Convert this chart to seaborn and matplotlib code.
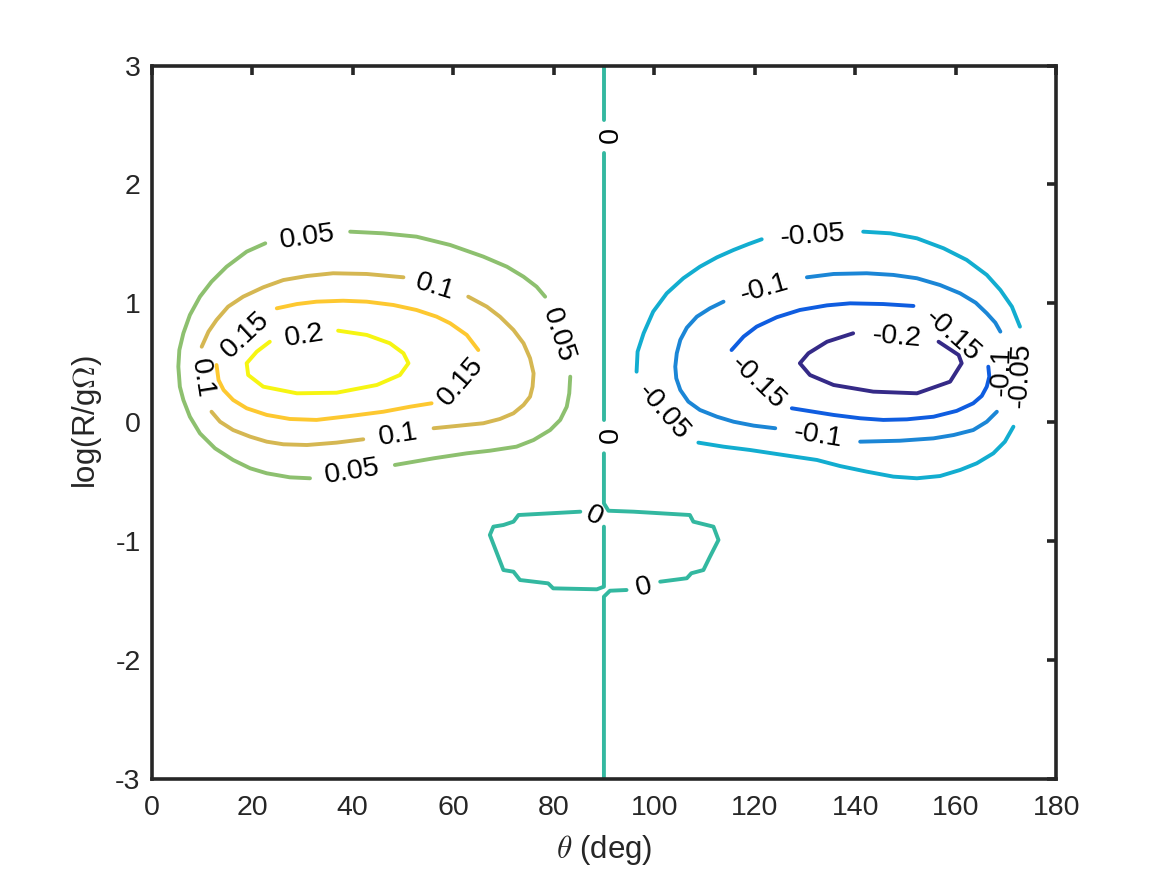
import matplotlib
matplotlib.use("Agg")
import matplotlib.pyplot as plt
import seaborn as sns

# contour pieces, theta (deg) / log(R/gOmega).
# each level is split where matlab put its inline labels
p005_theta = [[39.5, 46.1, 52.7, 59.4, 66.0, 70.7, 74.0, 76.6, 78.3],
              [83.3, 83.1, 82.6, 81.3, 79.3, 76.0, 72.6, 67.3, 62.7, 56.1, 48.4],
              [31.5, 27.5, 22.9, 19.6, 16.2, 12.6, 9.6, 7.6, 6.3, 5.6, 5.3, 5.5, 6.3, 7.6, 9.6,
               11.9, 14.9, 18.9, 22.6]]
p005_logr = [[1.603, 1.589, 1.561, 1.491, 1.393, 1.308, 1.224, 1.140, 1.056],
             [0.383, 0.243, 0.130, 0.019, -0.066, -0.150, -0.206, -0.240, -0.262, -0.304, -0.360],
             [-0.472, -0.464, -0.430, -0.388, -0.318, -0.220, -0.094, 0.046, 0.187, 0.299, 0.467,
              0.607, 0.748, 0.902, 1.056, 1.182, 1.308, 1.435, 1.505]]

p010_theta = [[9.95, 11.3, 12.9, 15.2, 18.2, 22.2, 26.2, 30.9, 36.1, 42.8, 50.1],
              [63.0, 66.7, 69.3, 72.0, 74.0, 75.3, 76.0, 75.8, 75.3, 74.0, 72.0, 69.3, 66.0, 56.1],
              [42.1, 36.8, 30.9, 26.2, 22.9, 19.6, 16.2, 13.6, 11.9]]
p010_logr = [[0.635, 0.762, 0.860, 0.972, 1.056, 1.135, 1.196, 1.230, 1.253, 1.247, 1.219],
             [1.056, 0.972, 0.888, 0.776, 0.664, 0.538, 0.411, 0.299, 0.215, 0.145, 0.075, 0.027,
              -0.009, -0.051],
             [-0.144, -0.172, -0.192, -0.186, -0.164, -0.122, -0.066, 0.004, 0.088]]

p015_theta = [[24.9, 28.9, 32.8, 38.1, 42.8, 48.1, 52.7, 56.7, 59.4, 62.7, 65.0],
              [55.7, 51.4, 46.1, 39.5, 32.8, 27.5, 22.9, 18.9, 16.2, 14.3, 13.3, 12.9]]
p015_logr = [[0.958, 0.994, 1.014, 1.022, 1.014, 0.986, 0.944, 0.888, 0.832, 0.734, 0.607],
             [0.159, 0.130, 0.088, 0.052, 0.019, 0.027, 0.061, 0.117, 0.187, 0.271, 0.355, 0.481]]

p020_theta = [[37.1, 42.8, 47.4, 50.1, 51.1, 49.4, 44.8, 36.8, 28.9, 22.2, 19.2, 18.9, 20.9, 23.5]]
p020_logr = [[0.770, 0.734, 0.664, 0.580, 0.496, 0.397, 0.313, 0.248, 0.243, 0.299, 0.397, 0.496,
              0.593, 0.677]]

# zero level: vertical line plus the small loop below the middle
z_theta = [[90, 90], [90, 90],
           [90, 90, 90.9, 95.9, 107.1, 107.8, 111.8, 112.8, 111.1, 109.8, 107.4, 106.5, 101.2],
           [94.5, 91.2, 90, 90],
           [90, 90, 88.6, 79.9, 78.9, 73.3, 72.0, 70.0, 67.3, 68.0, 70.0, 72.0, 73.0, 85.3]]
z_logr = [[3, 2.542], [2.263, 0.019],
          [-0.262, -0.683, -0.745, -0.753, -0.781, -0.837, -0.879, -0.991, -1.132, -1.244, -1.271,
           -1.313, -1.342],
          [-1.412, -1.418, -1.468, -3],
          [-0.879, -1.384, -1.406, -1.398, -1.356, -1.328, -1.258, -1.244, -0.949, -0.879, -0.865,
           -0.837, -0.781, -0.753]]

n005_theta = [[141.6, 147.0, 152.3, 157.6, 162.2, 166.2, 168.9, 171.2, 172.8],
              [171.5, 169.8, 167.5, 164.2, 160.9, 156.9, 152.3, 147.6, 142.3, 137.0, 132.4, 125.7,
               119.1, 113.8, 108.8],
              [96.5, 96.7, 97.9, 99.8, 102.5, 105.8, 109.1, 112.5, 115.8, 118.8, 121.4]]
n005_logr = [[1.603, 1.589, 1.547, 1.463, 1.365, 1.239, 1.112, 0.972, 0.804],
             [-0.038, -0.164, -0.262, -0.346, -0.402, -0.453, -0.472, -0.458, -0.416, -0.369, -0.318,
              -0.276, -0.234, -0.206, -0.172],
             [0.425, 0.593, 0.748, 0.930, 1.084, 1.211, 1.308, 1.387, 1.449, 1.499, 1.539]]

n010_theta = [[130.4, 135.7, 142.3, 147.6, 152.3, 156.9, 160.9, 164.0, 166.2, 167.9, 168.9],
              [168.2, 166.2, 163.5, 159.6, 155.6, 148.9, 141.0],
              [124.1, 119.8, 115.8, 112.5, 109.1, 106.8, 105.2, 104.4, 104.2, 104.5, 105.2, 106.5,
               108.5, 111.1, 113.8]]
n010_logr = [[1.219, 1.247, 1.253, 1.239, 1.211, 1.154, 1.084, 1.005, 0.916, 0.837, 0.762],
             [0.088, 0.004, -0.066, -0.108, -0.136, -0.156, -0.164],
             [-0.051, -0.029, 0.004, 0.046, 0.103, 0.173, 0.271, 0.369, 0.467, 0.580, 0.692, 0.795,
              0.888, 0.958, 1.014]]

n015_theta = [[115.4, 117.8, 120.4, 124.4, 129.0, 134.4, 139.0, 145.6, 151.6],
              [166.5, 166.7, 166.2, 165.2, 163.5, 160.2, 155.6, 150.3, 145.6, 141.0, 135.7, 131.7,
               127.4]]
n015_logr = [[0.607, 0.720, 0.804, 0.883, 0.944, 0.983, 1.000, 0.994, 0.978],
             [0.467, 0.383, 0.299, 0.221, 0.159, 0.095, 0.046, 0.024, 0.019, 0.033, 0.061, 0.088,
              0.117]]

n020_theta = [[139.6, 134.4, 130.7, 129.0, 131.0, 135.7, 143.6, 152.3, 158.9, 161.2, 160.6, 156.6]]
n020_logr = [[0.748, 0.677, 0.580, 0.496, 0.397, 0.313, 0.257, 0.243, 0.341, 0.496, 0.565, 0.677]]

# parula-like colours per level
level_colors = {
    -0.2: "#352a87", -0.15: "#0f5de0", -0.1: "#1b86d6", -0.05: "#12add0",
    0.0: "#33b8a0", 0.05: "#8dc06f", 0.1: "#d5b752", 0.15: "#fdc830", 0.2: "#f6f512",
}

sns.set_theme(style="white")
plt.rcParams["font.family"] = ["Liberation Sans", "DejaVu Sans"]
plt.rcParams["mathtext.fontset"] = "cm"
plt.rcParams["axes.unicode_minus"] = False

fig = plt.figure(figsize=(11.67, 8.75), dpi=100)
ax = fig.add_axes([0.13, 0.11, 0.775, 0.815])

levels = [
    (p005_theta, p005_logr, 0.05), (p010_theta, p010_logr, 0.1),
    (p015_theta, p015_logr, 0.15), (p020_theta, p020_logr, 0.2),
    (z_theta, z_logr, 0.0),
    (n005_theta, n005_logr, -0.05), (n010_theta, n010_logr, -0.1),
    (n015_theta, n015_logr, -0.15), (n020_theta, n020_logr, -0.2),
]
for th_parts, lr_parts, lev in levels:
    for xs, ys in zip(th_parts, lr_parts):
        sns.lineplot(x=xs, y=ys, sort=False, estimator=None, color=level_colors[lev],
                     lw=2.8, ax=ax)

# inline labels sit in the gaps: (text, theta, logr, rotation)
labels = [
    ("0.05", 31.0, 1.558, 8), ("0.05", 80.9, 0.73, -72), ("0.05", 39.9, -0.416, 9),
    ("0.1", 56.4, 1.138, -17), ("0.1", 49.1, -0.104, 9), ("0.1", 9.9, 0.365, -81),
    ("0.15", 61.6, 0.345, 49), ("0.15", 18.6, 0.735, 43),
    ("0.2", 30.3, 0.727, 9),
    ("0", 90, 2.402, -90), ("0", 90, -0.12, -90), ("0", 88.0, -0.790, -26), ("0", 98.0, -1.385, 14),
    ("-0.05", 131.5, 1.571, 4), ("-0.05", 173.0, 0.40, 87), ("-0.05", 101.8, 0.09, -49),
    ("-0.1", 122.0, 1.125, 16), ("-0.1", 169.2, 0.43, 88), ("-0.1", 132.6, -0.112, -9),
    ("-0.15", 159.4, 0.73, -42), ("-0.15", 120.6, 0.33, -44),
    ("-0.2", 148.2, 0.712, -5),
]
for txt, tx, ty, rot in labels:
    ax.text(tx, ty, txt, rotation=rot, rotation_mode="anchor", ha="center", va="center",
            fontsize=20.5, color="black", zorder=5)

ax.set_xlim(0, 180)
ax.set_ylim(-3, 3)
ax.set_xticks(range(0, 181, 20))
ax.set_yticks(range(-3, 4))

frame = "#262626"
for sp in ax.spines.values():
    sp.set_visible(True)
    sp.set_color(frame)
    sp.set_linewidth(2.6)
ax.tick_params(axis="both", direction="in", length=6.5, width=2.6, color=frame,
               labelcolor=frame, labelsize=20.5, top=True, right=True)
ax.tick_params(axis="x", pad=12)
ax.tick_params(axis="y", pad=8)

ax.set_xlabel(r"$\theta$ (deg)", fontsize=22.5, color=frame, labelpad=8)
ax.set_ylabel(r"log(R/g$\mathit{\Omega}$)", fontsize=22.5, color=frame, labelpad=8)

fig.savefig("out.png", dpi=100, facecolor="white")
